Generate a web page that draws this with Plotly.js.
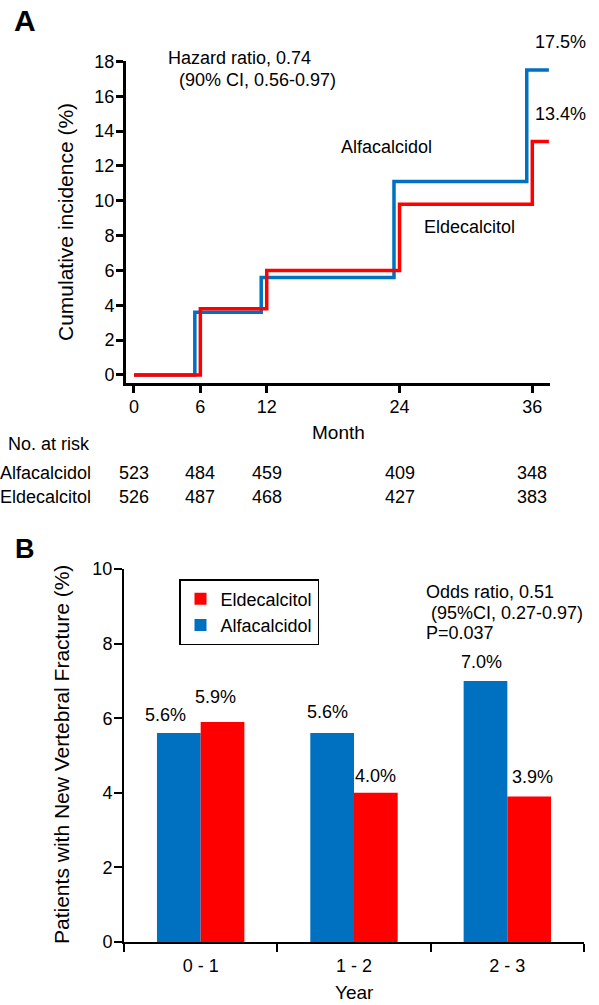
<!DOCTYPE html>
<html>
<head>
<meta charset="utf-8">
<script src="https://cdn.plot.ly/plotly-3.0.1.min.js"></script>
<style>html,body{margin:0;padding:0;background:#fff;}#chart{width:599px;height:1005px;}</style>
</head>
<body>
<div id="chart"></div>
<script>
// ---- Panel A data (cumulative incidence, step curves) ----
const monthsAlfa = [0, 5.5, 11.5, 23.5, 35.5, 37.5];
const incAlfa    = [0, 3.6, 5.6, 11.1, 17.5, 17.5];
const monthsElde = [0, 6, 12, 24, 36, 37.5];
const incElde    = [0, 3.8, 6.0, 9.8, 13.4, 13.4];
const monthTicks = [0, 6, 12, 24, 36];

// Number at risk
const riskMonths = [0, 6, 12, 24, 36];
const riskAlfa = [523, 484, 459, 409, 348];
const riskElde = [526, 487, 468, 427, 383];

// ---- Panel B data (new vertebral fracture by year) ----
const yearCats = ['0 - 1', '1 - 2', '2 - 3'];
const fracAlfa = [5.6, 5.6, 7.0];
const fracElde = [5.9, 4.0, 3.9];

const BLUE = '#0070C0', RED = '#FF0000';
const W = 599, H = 1005;
const px = x => x / W;
const py = y => 1 - y / H;
const FONT = 'Arial, "Liberation Sans", Helvetica, sans-serif';

const traces = [
  {x: monthsAlfa, y: incAlfa, type: 'scatter', mode: 'lines', line: {shape: 'hv', color: BLUE, width: 3.5},
   xaxis: 'x', yaxis: 'y', showlegend: false, hoverinfo: 'skip'},
  {x: monthsElde, y: incElde, type: 'scatter', mode: 'lines', line: {shape: 'hv', color: RED, width: 3.5},
   xaxis: 'x', yaxis: 'y', showlegend: false, hoverinfo: 'skip'},
  {x: yearCats, y: fracAlfa, type: 'bar', name: 'Alfacalcidol', marker: {color: BLUE},
   xaxis: 'x2', yaxis: 'y2', hoverinfo: 'skip'},
  {x: yearCats, y: fracElde, type: 'bar', name: 'Eldecalcitol', marker: {color: RED},
   xaxis: 'x2', yaxis: 'y2', hoverinfo: 'skip'}
];

const ann = [];
function txt(text, x, y, opts) {
  ann.push(Object.assign({text: text, x: px(x), y: py(y), xref: 'paper', yref: 'paper',
    showarrow: false, xanchor: 'left', yanchor: 'middle', font: {size: 18, color: '#000', family: FONT}}, opts || {}));
}
// Panel labels
txt('<b>A</b>', 24.5, 21, {xanchor: 'center', font: {size: 30, color: '#000', family: FONT}});
txt('<b>B</b>', 25, 549, {xanchor: 'center', font: {size: 27, color: '#000', family: FONT}});
// Panel A annotations
txt('Hazard ratio, 0.74', 166, 58);
txt('(90% CI, 0.56-0.97)', 177, 80);
txt('Alfacalcidol', 339, 147);
txt('Eldecalcitol', 422, 227);
// end-of-curve percentages
[[monthsAlfa, incAlfa], [monthsElde, incElde]].forEach(([mx, v]) => {
  const last = v[v.length - 1];
  ann.push({text: last.toFixed(1) + '%', x: 36.1, y: last, xref: 'x', yref: 'y', showarrow: false,
    xanchor: 'left', yanchor: 'middle', yshift: 28, font: {size: 18, color: '#000', family: FONT}});
});
// axis titles
txt('Cumulative incidence (%)', 65, 222, {xanchor: 'center', textangle: -90, font: {size: 21, color: '#000', family: FONT}});
txt('Month', 338, 433, {xanchor: 'center', font: {size: 19, color: '#000', family: FONT}});
// risk table
txt('No. at risk', 6, 444);
txt('Alfacalcidol', 93, 473, {xanchor: 'right'});
txt('Eldecalcitol', 93, 497, {xanchor: 'right'});
riskMonths.forEach((m, i) => {
  ann.push({text: String(riskAlfa[i]), x: m, y: py(473), xref: 'x', yref: 'paper', showarrow: false,
    xanchor: 'center', yanchor: 'middle', font: {size: 18, color: '#000', family: FONT}});
  ann.push({text: String(riskElde[i]), x: m, y: py(497), xref: 'x', yref: 'paper', showarrow: false,
    xanchor: 'center', yanchor: 'middle', font: {size: 18, color: '#000', family: FONT}});
});
// Panel B annotations
txt('Odds ratio, 0.51', 424, 592);
txt(' (95%CI, 0.27-0.97)', 424, 613);
txt('P=0.037', 424, 633);
txt('Patients with New Vertebral Fracture (%)', 61, 755, {xanchor: 'center', textangle: -90, font: {size: 21, color: '#000', family: FONT}});
txt('Year', 354, 992, {xanchor: 'center', font: {size: 19, color: '#000', family: FONT}});
// bar value labels
const alfaShiftX = [-35, -27, -26], alfaShiftY = [18, 21, 19];
const eldeShiftX = [15, 21, 25], eldeShiftY = [25, 17, 20];
yearCats.forEach((c, i) => {
  ann.push({text: fracAlfa[i].toFixed(1) + '%', x: i, y: fracAlfa[i], xref: 'x2', yref: 'y2', showarrow: false,
    xanchor: 'center', yanchor: 'middle', xshift: alfaShiftX[i], yshift: alfaShiftY[i], font: {size: 18, color: '#000', family: FONT}});
  ann.push({text: fracElde[i].toFixed(1) + '%', x: i, y: fracElde[i], xref: 'x2', yref: 'y2', showarrow: false,
    xanchor: 'center', yanchor: 'middle', xshift: eldeShiftX[i], yshift: eldeShiftY[i], font: {size: 18, color: '#000', family: FONT}});
});

const axCommon = {showline: true, linecolor: '#000', showgrid: false, zeroline: false, ticks: 'outside',
  tickcolor: '#000', tickfont: {size: 18, color: '#000', family: FONT}, fixedrange: true};

const layout = {
  width: W, height: H,
  margin: {l: 0, r: 0, t: 0, b: 0},
  paper_bgcolor: '#fff', plot_bgcolor: '#fff',
  font: {family: FONT, size: 18, color: '#000'},
  showlegend: true,
  legend: {x: px(179), y: py(579), xanchor: 'left', yanchor: 'top', traceorder: 'reversed',
    bordercolor: '#000', borderwidth: 1.5, bgcolor: '#fff', font: {size: 18, color: '#000', family: FONT}},
  bargap: 0.43, bargroupgap: 0, barmode: 'group',
  xaxis: Object.assign({}, axCommon, {domain: [px(126), px(550)], range: [-0.72, 37.6], tickvals: monthTicks,
    ticklen: 7, tickwidth: 3, linewidth: 3, anchor: 'y', ticklabelstandoff: -2}),
  yaxis: Object.assign({}, axCommon, {domain: [py(383), py(61)], range: [-0.46, 18.02], tick0: 0, dtick: 2,
    ticklen: 7, tickwidth: 3, linewidth: 3, anchor: 'x', ticklabelstandoff: -2}),
  xaxis2: Object.assign({}, axCommon, {domain: [px(124), px(584)], type: 'category', range: [-0.5, 2.5],
    tickson: 'boundaries', ticklen: 8, tickwidth: 2, linewidth: 2, anchor: 'y2', ticklabelstandoff: 6}),
  yaxis2: Object.assign({}, axCommon, {domain: [py(942), py(569)], range: [0, 10], tick0: 0, dtick: 2,
    ticklen: 8, tickwidth: 2, linewidth: 2, anchor: 'x2', ticklabelstandoff: -2}),
  annotations: ann
};

Plotly.newPlot('chart', traces, layout, {staticPlot: true, displayModeBar: false});
</script>
</body>
</html>
